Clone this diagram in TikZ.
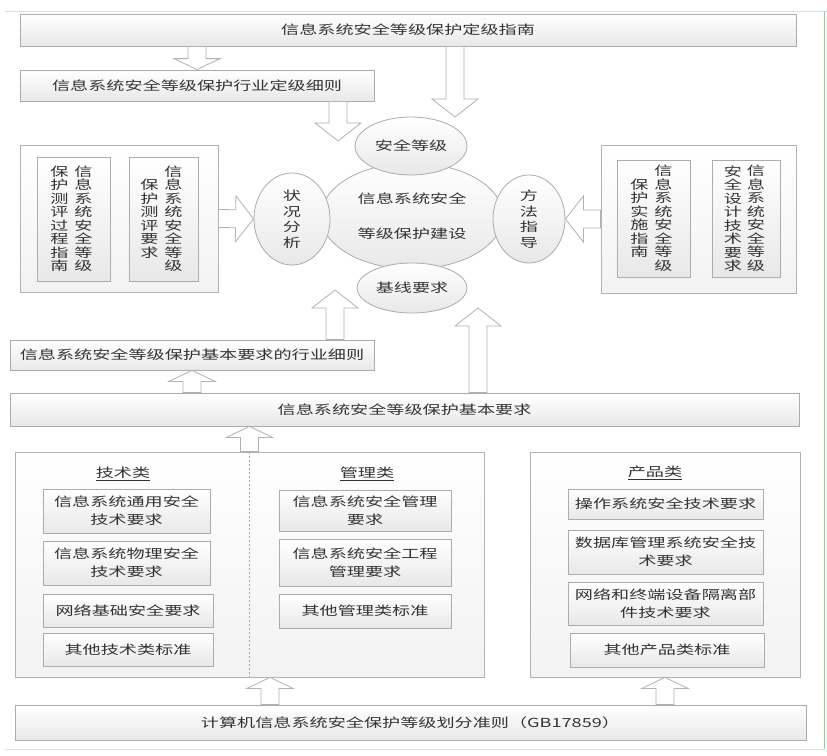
\documentclass[tikz,border=0pt]{standalone}
\usepackage{fontspec}
\newfontfamily\cjkfont[FakeStretch=1.45]{Noto Sans CJK SC}
\usetikzlibrary{shapes.geometric,shadows,calc}

\begin{document}
\begin{tikzpicture}[x=1pt,y=-1pt,
  txt/.style={font=\cjkfont\fontsize{12.5}{18}\selectfont,text=black!80},
  grad/.style={top color=white,bottom color=gray!18},
  shad/.style={drop shadow={shadow xshift=1.2pt,shadow yshift=-1.2pt,opacity=.3}},
  bar/.style={draw=gray!65,line width=.8pt,grad,shad,txt,align=center,inner sep=0pt},
  panel/.style={draw=gray!60,line width=.8pt,top color=white,bottom color=gray!10,shad,inner sep=0pt},
  oval/.style={ellipse,draw=gray!65,line width=.8pt,grad,txt,align=center,inner sep=0pt},
  vcol/.style={txt,font=\cjkfont\fontsize{12.5}{13.5}\selectfont,align=center,inner sep=0pt},
  blk/.style={draw=gray!60,fill=white,line width=.8pt,
    to path={-- ($(\tikztostart)!9pt!90:(\tikztotarget)$)
      -- ($(\tikztotarget)!20.12pt!-26.57:(\tikztostart)$)
      -- ($(\tikztotarget)!29.21pt!-51.95:(\tikztostart)$)
      -- (\tikztotarget)
      -- ($(\tikztotarget)!29.21pt!51.95:(\tikztostart)$)
      -- ($(\tikztotarget)!20.12pt!26.57:(\tikztostart)$)
      -- ($(\tikztostart)!9pt!-90:(\tikztotarget)$) -- cycle}},
  blks/.style={draw=gray!60,fill=white,line width=.8pt,
    to path={-- ($(\tikztostart)!9pt!90:(\tikztotarget)$)
      -- ($(\tikztotarget)!14.21pt!-39.29:(\tikztostart)$)
      -- ($(\tikztotarget)!25.50pt!-64.44:(\tikztostart)$)
      -- (\tikztotarget)
      -- ($(\tikztotarget)!25.50pt!64.44:(\tikztostart)$)
      -- ($(\tikztotarget)!14.21pt!39.29:(\tikztostart)$)
      -- ($(\tikztostart)!9pt!-90:(\tikztotarget)$) -- cycle}}]
\fill[white] (0,0) rectangle (827,755);
\useasboundingbox (0,0) rectangle (827,755);
% page frame
\draw[gray!25] (5,11) -- (827,11);
\draw[green!40!gray!60] (824,11) -- (824,749);
\draw[gray!25] (5,749) -- (824,749);

% top bars
\node[bar,minimum width=776,minimum height=32] (top) at (408,30) {信息系统安全等级保护定级指南};
\node[bar,minimum width=354,minimum height=31] (zhb) at (197,85.5) {信息系统安全等级保护行业定级细则};

% centre
\node[oval,minimum width=182,minimum height=106] (core) at (412,216) {信息系统安全\\[17pt]等级保护建设};
\node[oval,minimum width=112,minimum height=58] (grade) at (411,146) {安全等级};
\node[oval,minimum width=76,minimum height=92,font=\cjkfont\fontsize{12.5}{15.5}\selectfont] (state) at (292,219) {状\\况\\分\\析};
\node[oval,minimum width=72,minimum height=88,font=\cjkfont\fontsize{12.5}{15.5}\selectfont] (method) at (529,219) {方\\法\\指\\导};
\node[oval,minimum width=110,minimum height=50] (base) at (412,288) {基线要求};

% left panel
\node[panel,minimum width=198,minimum height=147] (lp) at (119,218.5) {};
\node[bar,minimum width=73,minimum height=124] (lp1) at (73.5,219) {};
\node[vcol] (lp1r) at (83.5,219) {信\\息\\系\\统\\安\\全\\等\\级};
\node[vcol] (lp1l) at (59.5,219) {保\\护\\测\\评\\过\\程\\指\\南};
\node[bar,minimum width=69,minimum height=124] (lp2) at (163.5,219) {};
\node[vcol] (lp2r) at (173.5,219) {信\\息\\系\\统\\安\\全\\等\\级};
\node[vcol] (lp2l) at (149.5,219) {保\\护\\测\\评\\要\\求};

% right panel
\node[panel,minimum width=195,minimum height=148] (rp) at (698.5,219) {};
\node[bar,minimum width=73,minimum height=117] (rp1) at (653.5,218.5) {};
\node[vcol] (rp1r) at (663.5,218.5) {信\\息\\系\\统\\安\\全\\等\\级};
\node[vcol] (rp1l) at (639.5,218.5) {保\\护\\实\\施\\指\\南};
\node[bar,minimum width=68,minimum height=117] (rp2) at (746,218.5) {};
\node[vcol] (rp2r) at (756,218.5) {信\\息\\系\\统\\安\\全\\等\\级};
\node[vcol] (rp2l) at (733,218.5) {安\\全\\设\\计\\技\\术\\要\\求};

% middle bars
\node[bar,minimum width=364,minimum height=30] (xhy) at (192,355) {信息系统安全等级保护基本要求的行业细则};
\node[bar,minimum width=789,minimum height=33] (basic) at (404.5,409.5) {信息系统安全等级保护基本要求};

% technology / management
\node[panel,minimum width=469,minimum height=225] (tp) at (249.5,564.5) {};
\draw[gray!70,dash pattern=on 2pt off 2pt] (tp.north) -- (tp.south);
\node[txt] (tech) at (123,474) {\underline{技术类}};
\node[txt] (mgmt) at (367,474) {\underline{管理类}};
\node[bar,minimum width=167,minimum height=44] (t1) at (126.5,511) {信息系统通用安全\\技术要求};
\node[bar,minimum width=167,minimum height=44] (t2) at (126.5,563) {信息系统物理安全\\技术要求};
\node[bar,minimum width=170,minimum height=33] (t3) at (128,610.5) {网络基础安全要求};
\node[bar,minimum width=170,minimum height=33] (t4) at (128,649.5) {其他技术类标准};
\node[bar,minimum width=172,minimum height=41] (m1) at (365,510.5) {信息系统安全管理\\要求};
\node[bar,minimum width=172,minimum height=47] (m2) at (365,562.5) {信息系统安全工程\\管理要求};
\node[bar,minimum width=172,minimum height=34] (m3) at (365,611) {其他管理类标准};

% products
\node[panel,minimum width=270,minimum height=225] (pp) at (665,564.5) {};
\node[txt] (prod) at (655,473) {\underline{产品类}};
\node[bar,minimum width=195,minimum height=30] (p1) at (665.5,504) {操作系统安全技术要求};
\node[bar,minimum width=195,minimum height=44] (p2) at (665.5,552) {数据库管理系统安全技\\术要求};
\node[bar,minimum width=195,minimum height=43] (p3) at (665.5,603.5) {网络和终端设备隔离部\\件技术要求};
\node[bar,minimum width=194,minimum height=34] (p4) at (667,650) {其他产品类标准};

\node[bar,minimum width=791,minimum height=35] (gb) at (410.5,722.5) {计算机信息系统安全保护等级划分准则（GB17859）};

% block arrows
\coordinate (gradein) at (455,117);
\coordinate (statein) at (338,141);
\coordinate (basel) at (335,290);
\coordinate (baser) at (478,308);
\coordinate (upl) at ([xshift=20.5pt]tp.south);
\draw[blks] (top.south -| zhb.north) to (zhb.north);
\draw[blk] (top.south -| gradein) to (gradein);
\draw[blk] (zhb.south -| statein) to (statein);
\draw[blk] (lp.east) to (state.west);
\draw[blk] (rp.west) to (method.east);
\draw[blks] (basic.north -| xhy.south) to (xhy.south);
\draw[blk] (xhy.north -| basel) to (basel);
\draw[blk] (basic.north -| baser) to (baser);
\draw[blks] (tp.north) to (tp.north |- basic.south);
\draw[blks] (gb.north -| upl) to (upl);
\draw[blks] (gb.north -| pp.south) to (pp.south);
\end{tikzpicture}
\end{document}
